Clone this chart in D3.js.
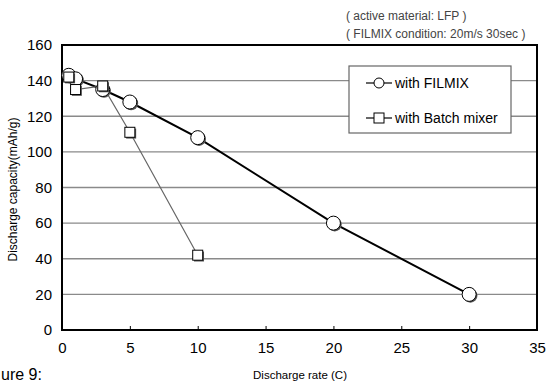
<!DOCTYPE html>
<html><head><meta charset="utf-8">
<script src="https://cdn.jsdelivr.net/npm/d3@7"></script>
<style>body{margin:0;background:#fff}svg{display:block}</style>
</head><body>
<svg id="c" width="546" height="385"></svg>
<script>
const filmixRate = [0.5, 1, 3, 5, 10, 20, 30];
const filmixCap  = [143, 141, 135, 128, 108, 60, 20];
const batchRate  = [0.5, 1, 3, 5, 10];
const batchCap   = [142, 135, 137, 111, 42];
const xTicks = [0, 5, 10, 15, 20, 25, 30, 35];
const yTicks = [0, 20, 40, 60, 80, 100, 120, 140, 160];
const legendLabels = ["with FILMIX", "with Batch mixer"];
const notes = ["( active material: LFP )", "( FILMIX condition: 20m/s 30sec )"];
const captionFragment = "ure 9:";

const svg = d3.select("#c");
const L = 62, R = 537, T = 45, B = 330;
const x = d3.scaleLinear().domain([0, 35]).range([L, R]);
const y = d3.scaleLinear().domain([0, 160]).range([B, T]);
const font = "Liberation Sans, Arial, sans-serif";

// gridlines
svg.append("g").selectAll("line").data(yTicks.filter(d => d > 0 && d < 160)).join("line")
  .attr("x1", L).attr("x2", R).attr("y1", d => y(d)).attr("y2", d => y(d))
  .attr("stroke", "#8a8a8a").attr("stroke-width", 1.4);

// x axis (ticks inward)
const xa = svg.append("g").attr("transform", `translate(0,${B})`)
  .call(d3.axisBottom(x).tickValues(xTicks).tickSizeInner(-4).tickSizeOuter(0).tickPadding(12));
xa.select(".domain").remove();
xa.selectAll("line").attr("stroke", "#000").attr("stroke-width", 1);
xa.selectAll("text").attr("font-family", font).attr("font-size", 15).attr("fill", "#000");

const ya = svg.append("g").attr("transform", `translate(${L},0)`)
  .call(d3.axisLeft(y).tickValues(yTicks).tickSize(0).tickPadding(10));
ya.select(".domain").remove();
ya.selectAll("text").attr("font-family", font).attr("font-size", 15).attr("fill", "#000");

// frame
svg.append("rect").attr("x", L).attr("y", T).attr("width", R - L).attr("height", B - T)
  .attr("fill", "none").attr("stroke", "#000").attr("stroke-width", 2);

// axis titles
svg.append("text").attr("x", 300).attr("y", 379).attr("text-anchor", "middle")
  .attr("font-family", font).attr("font-size", 11.5).text("Discharge rate (C)");
svg.append("text").attr("transform", `translate(17,${(T + B) / 2 + 2}) rotate(-90)`).attr("text-anchor", "middle")
  .attr("font-family", font).attr("font-size", 12).text("Discharge capacity(mAh/g)");

// notes
svg.selectAll("text.note").data(notes).join("text").attr("class", "note")
  .attr("x", 346).attr("y", (d, i) => 20 + i * 18)
  .attr("font-family", font).attr("font-size", 12).attr("fill", "#444").text(d => d);

svg.append("text").attr("x", 1).attr("y", 380)
  .attr("font-family", font).attr("font-size", 16).text(captionFragment);

// series
const filmix = filmixRate.map((r, i) => [r, filmixCap[i]]);
const batch = batchRate.map((r, i) => [r, batchCap[i]]);
const line = d3.line().x(d => x(d[0])).y(d => y(d[1]));

svg.append("path").attr("d", line(filmix)).attr("fill", "none").attr("stroke", "#000").attr("stroke-width", 2);
svg.append("path").attr("d", line(batch)).attr("fill", "none").attr("stroke", "#666").attr("stroke-width", 1.2);

const gC = svg.append("g");
gC.selectAll("circle.sh").data(filmix).join("circle").attr("class", "sh")
  .attr("cx", d => x(d[0]) + 1.3).attr("cy", d => y(d[1]) + 1.3).attr("r", 7).attr("fill", "#555");
gC.selectAll("circle.m").data(filmix).join("circle").attr("class", "m")
  .attr("cx", d => x(d[0])).attr("cy", d => y(d[1])).attr("r", 7)
  .attr("fill", "#fff").attr("stroke", "#000").attr("stroke-width", 1);

const s = 10;
const gS = svg.append("g");
gS.selectAll("rect.sh").data(batch).join("rect").attr("class", "sh")
  .attr("x", d => x(d[0]) - s / 2 + 1.3).attr("y", d => y(d[1]) - s / 2 + 1.3).attr("width", s).attr("height", s).attr("fill", "#555");
gS.selectAll("rect.m").data(batch).join("rect").attr("class", "m")
  .attr("x", d => x(d[0]) - s / 2).attr("y", d => y(d[1]) - s / 2).attr("width", s).attr("height", s)
  .attr("fill", "#fff").attr("stroke", "#000").attr("stroke-width", 1);

// legend
const lg = svg.append("g");
lg.append("rect").attr("x", 349).attr("y", 66).attr("width", 162).attr("height", 67)
  .attr("fill", "#fff").attr("stroke", "#666").attr("stroke-width", 1.2);
const rows = lg.selectAll("g").data(legendLabels).join("g")
  .attr("transform", (d, i) => `translate(0,${83 + i * 35})`);
rows.append("line").attr("x1", 366).attr("x2", 392).attr("y1", 0).attr("y2", 0).attr("stroke", "#000").attr("stroke-width", 1.2);
rows.filter((d, i) => i === 0).append("circle").attr("cx", 379).attr("cy", 0).attr("r", 5)
  .attr("fill", "#fff").attr("stroke", "#000").attr("stroke-width", 1);
rows.filter((d, i) => i === 1).append("rect").attr("x", 374).attr("y", -5).attr("width", 10).attr("height", 10)
  .attr("fill", "#fff").attr("stroke", "#000").attr("stroke-width", 1);
rows.append("text").attr("x", 395).attr("y", 5).attr("font-family", font).attr("font-size", 14).text(d => d);
</script>
</body></html>
